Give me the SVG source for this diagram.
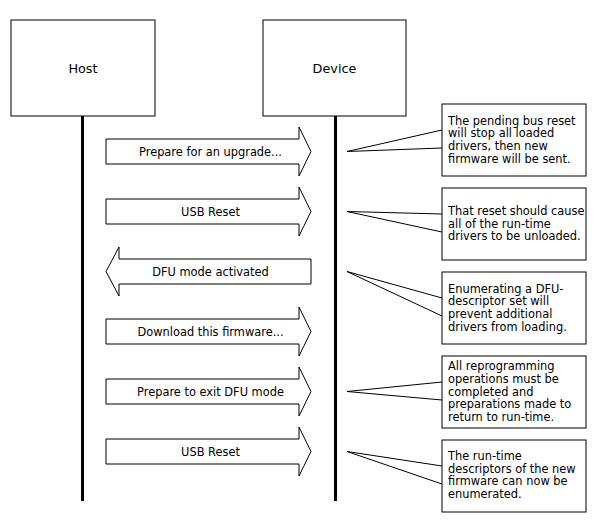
<svg xmlns="http://www.w3.org/2000/svg" width="601" height="522" viewBox="0 0 601 522">
<style>
.box{fill:#fff;stroke:#000;stroke-width:1}
.life{stroke:#000;stroke-width:3;fill:none}
.arrow{fill:#fff;stroke:#000;stroke-width:1}
.call{fill:none;stroke:#000;stroke-width:1}
.t{font-family:"DejaVu Sans",Verdana,sans-serif;fill:#000}
.big{font-size:12.8px}
.sm{font-size:11.4px}
</style>
<rect width="601" height="522" fill="#fff"/>
<g id="lifelines">
<line class="life" x1="82.5" y1="116" x2="82.5" y2="501"/>
<line class="life" x1="335.5" y1="116" x2="335.5" y2="501"/>
</g>
<g id="host">
<rect class="box" x="11" y="20" width="144" height="96"/>
<text class="t big" x="83" y="72.5" text-anchor="middle">Host</text>
</g>
<g id="device">
<rect class="box" x="263" y="20" width="143" height="96"/>
<text class="t big" x="334.5" y="72.5" text-anchor="middle">Device</text>
</g>
<g id="connectors">
<polyline class="call" points="442,130 347,151.5 442,148"/>
<polyline class="call" points="442,214 347,211.5 442,232"/>
<polyline class="call" points="442,298 347,271.5 442,316"/>
<polyline class="call" points="442,382 347,391.5 442,400"/>
<polyline class="call" points="442,466 347,451.5 442,484"/>
</g>
<g id="msg1">
<path class="arrow" d="M106,139 H299 V127 L311,151.5 L299,176 V164 H106 Z"/>
<text class="t sm" x="210.5" y="155.5" text-anchor="middle">Prepare for an upgrade...</text>
</g>
<g id="msg2">
<path class="arrow" d="M106,199 H299 V187 L311,211.5 L299,236 V224 H106 Z"/>
<text class="t sm" x="210.5" y="215.5" text-anchor="middle">USB Reset</text>
</g>
<g id="msg3">
<path class="arrow" d="M311,259 H119 V247 L106,271.5 L119,296 V284 H311 Z"/>
<text class="t sm" x="210.5" y="275.5" text-anchor="middle">DFU mode activated</text>
</g>
<g id="msg4">
<path class="arrow" d="M106,319 H299 V307 L311,331.5 L299,356 V344 H106 Z"/>
<text class="t sm" x="210.5" y="335.5" text-anchor="middle">Download this firmware...</text>
</g>
<g id="msg5">
<path class="arrow" d="M106,379 H299 V367 L311,391.5 L299,416 V404 H106 Z"/>
<text class="t sm" x="210.5" y="395.5" text-anchor="middle">Prepare to exit DFU mode</text>
</g>
<g id="msg6">
<path class="arrow" d="M106,439 H299 V427 L311,451.5 L299,476 V464 H106 Z"/>
<text class="t sm" x="210.5" y="455.5" text-anchor="middle">USB Reset</text>
</g>
<g id="note1">
<rect class="box" x="442" y="104" width="144" height="72"/>
<text class="t sm" x="448" y="124.5"><tspan x="448">The pending bus reset</tspan><tspan x="448" dy="12.7">will stop all loaded</tspan><tspan x="448" dy="12.7">drivers, then new</tspan><tspan x="448" dy="12.7">firmware will be sent.</tspan></text>
</g>
<g id="note2">
<rect class="box" x="442" y="188" width="144" height="72"/>
<text class="t sm" x="448" y="214.8"><tspan x="448">That reset should cause</tspan><tspan x="448" dy="12.7">all of the run-time</tspan><tspan x="448" dy="12.7">drivers to be unloaded.</tspan></text>
</g>
<g id="note3">
<rect class="box" x="442" y="272" width="144" height="72"/>
<text class="t sm" x="448" y="292.5"><tspan x="448">Enumerating a DFU-</tspan><tspan x="448" dy="12.7">descriptor set will</tspan><tspan x="448" dy="12.7">prevent additional</tspan><tspan x="448" dy="12.7">drivers from loading.</tspan></text>
</g>
<g id="note4">
<rect class="box" x="442" y="356" width="144" height="72"/>
<text class="t sm" x="448" y="370.1"><tspan x="448">All reprogramming</tspan><tspan x="448" dy="12.7">operations must be</tspan><tspan x="448" dy="12.7">completed and</tspan><tspan x="448" dy="12.7">preparations made to</tspan><tspan x="448" dy="12.7">return to run-time.</tspan></text>
</g>
<g id="note5">
<rect class="box" x="442" y="440" width="144" height="72"/>
<text class="t sm" x="448" y="459.8"><tspan x="448">The run-time</tspan><tspan x="448" dy="12.7">descriptors of the new</tspan><tspan x="448" dy="12.7">firmware can now be</tspan><tspan x="448" dy="12.7">enumerated.</tspan></text>
</g>
</svg>
